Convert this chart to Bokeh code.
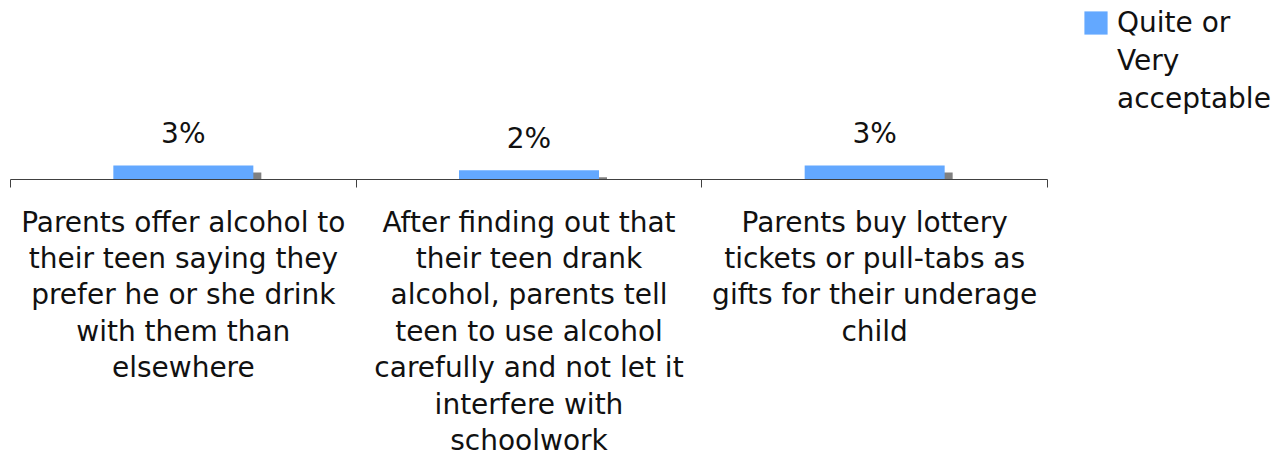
from bokeh.plotting import figure
from bokeh.models import Range1d, FixedTicker, ColumnDataSource, Legend, LegendItem
from bokeh.core.properties import value
from bokeh.embed import file_html
from bokeh.resources import INLINE

# ---- data ----
categories = [
    "Parents offer alcohol to\ntheir teen saying they\nprefer he or she drink\nwith them than\nelsewhere",
    "After finding out that\ntheir teen drank\nalcohol, parents tell\nteen to use alcohol\ncarefully and not let it\ninterfere with\nschoolwork",
    "Parents buy lottery\ntickets or pull-tabs as\ngifts for their underage\nchild",
]
values = [3, 2, 3]
value_labels = ["3%", "2%", "3%"]
series_lines = ["Quite or", "Very", "acceptable"]   # legend label, wrapped as shown

# ---- style ----
FONT = "DejaVu Sans"
FS = "28px"
BLUE = "#63A8FF"
SHADOW = "#808080"
AXIS = "#404040"

frame_w, frame_h = 1037, 171
n = len(categories)
x = [i + 0.5 for i in range(n)]
ymax = 36.6
ux = n / frame_w      # data units per pixel (x)
uy = ymax / frame_h   # data units per pixel (y)

src = ColumnDataSource(dict(
    x=x, top=values, lab=value_labels,
    sx=[xi + 8 * ux for xi in x],
    stop=[v - 7 * uy for v in values],
))

p = figure(frame_width=frame_w, frame_height=frame_h,
           x_range=Range1d(0, n), y_range=Range1d(0, ymax),
           output_backend="svg", toolbar_location=None,
           min_border_left=10, min_border_right=228,
           min_border_top=8, min_border_bottom=0)

p.vbar(x="sx", top="stop", bottom=0, width=0.405, source=src,
       fill_color=SHADOW, line_color=None)
bars = p.vbar(x="x", top="top", bottom=0, width=0.405, source=src,
              fill_color=BLUE, line_color=None)
p.text(x="x", y="top", text="lab", source=src, y_offset=-32,
       text_align="center", text_baseline="alphabetic",
       text_font=value(FONT), text_font_size=FS, text_color="#111111")

# transparent placeholder used only for the wrapped legend lines
blank = p.vbar(x=[], top=[], width=0.405, fill_alpha=0, line_alpha=0)

p.yaxis.visible = False
p.grid.visible = False
p.outline_line_color = None

ax = p.xaxis[0]
ax.ticker = FixedTicker(ticks=x, minor_ticks=list(range(n + 1)))
ax.major_label_overrides = {xi: c for xi, c in zip(x, categories)}
ax.major_tick_line_color = None
ax.major_tick_out = 0
ax.major_tick_in = 0
ax.minor_tick_line_color = AXIS
ax.minor_tick_out = 8
ax.minor_tick_in = 0
ax.axis_line_color = AXIS
ax.major_label_text_font = FONT
ax.major_label_text_font_size = FS
ax.major_label_text_color = "#111111"
ax.major_label_text_line_height = 1.105
ax.major_label_standoff = 18
ax.major_label_orientation = "horizontal"

items = [LegendItem(label=series_lines[0], renderers=[bars])] + \
        [LegendItem(label=t, renderers=[blank]) for t in series_lines[1:]]
legend = Legend(items=items, location=(34, 64),
                border_line_color=None, background_fill_alpha=0,
                padding=0, margin=0, spacing=5,
                glyph_width=29, glyph_height=29, label_height=23,
                label_standoff=7, label_text_font=FONT,
                label_text_font_size=FS, label_text_color="#111111")
p.add_layout(legend, "right")

open("out.html", "w").write(file_html(p, INLINE))
